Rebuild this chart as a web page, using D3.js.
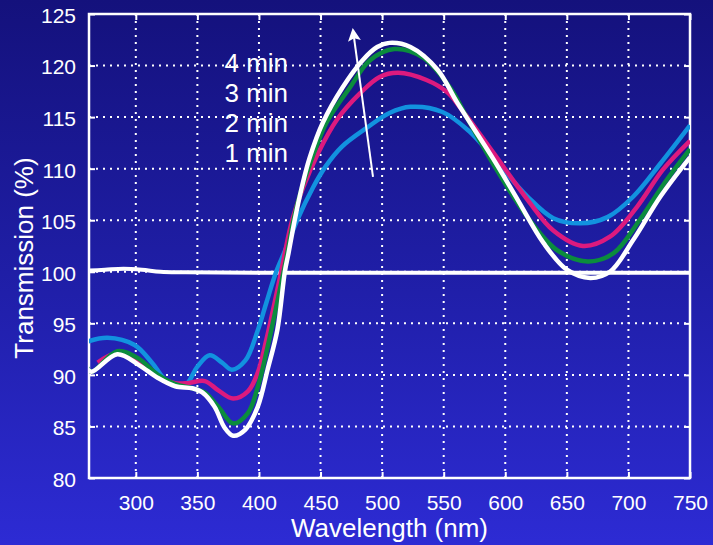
<!DOCTYPE html>
<html>
<head>
<meta charset="utf-8">
<title>Transmission vs wavelength</title>
<script src="https://d3js.org/d3.v7.min.js"></script>
<style>
  html, body { margin: 0; padding: 0; background: #1c1b9a; }
  svg { display: block; }
  text { font-family: Arial, "Liberation Sans", Helvetica, sans-serif; fill: white; }
</style>
</head>
<body>
<script>
// wavelength (nm), transmission (%)
let reference = [[260,100.1],[275,100.2],[290,100.3],[305,100.2],[320,100.0],[340,99.95],[400,99.9],[500,99.9],[600,99.9],[750,99.9]]

let min1 = [[260,93.2],[277,93.6],[299,92.9],[313,91.2],[326,89.3],[340,89.0],[350,90.8],[360,91.9],[370,91.2],[378,90.5],[389,91.4],[399,94.3],[406,97.0],[414,100],[421,102],[431,105],[444,108.2],[454,110.2],[467,112.1],[488,114.0],[506,115.4],[523,116.0],[549,115.5],[571,113.6],[590,111.1],[618,107.3],[639,105.2],[661,104.7],[683,105.3],[704,107.3],[726,110.5],[750,114.2]]

let min2 = [[269,91.2],[285,92.1],[302,91.4],[318,89.8],[332,89.2],[342,89.2],[356,89.4],[367,88.5],[379,87.7],[391,88.4],[399,90.2],[406,93.4],[418,100],[421,101.8],[427,105],[436,108.2],[448,111.5],[463,114.7],[482,117.3],[498,118.9],[513,119.3],[536,118.6],[553,117.4],[563,116.0],[590,111.6],[618,107.0],[639,104.0],[663,102.5],[685,103.4],[707,106.3],[728,109.9],[750,112.7]]

let min3 = [[260,90.8],[264,90.3],[285,92.3],[302,91.6],[318,90.0],[332,89.1],[346,88.7],[356,88.3],[367,86.9],[379,85.3],[391,86.3],[399,88.8],[407,92.7],[420,100],[423,101.8],[428,105],[435,108.2],[443,111.0],[455,114.5],[474,117.9],[490,120.5],[510,121.6],[533,120.8],[555,117.9],[570,114.7],[590,110.5],[618,105.3],[642,102.1],[667,101.0],[688,101.8],[709,105],[731,108.9],[750,111.9]]

let min4 = [[260,90.7],[264,90.3],[285,92.0],[302,91.0],[318,89.7],[332,88.9],[346,88.7],[354,88.3],[364,86.9],[372,84.9],[379,84.1],[389,84.7],[399,86.9],[407,90.5],[415,94.4],[421,100],[424,101.8],[429,105],[435,108.3],[441,111.0],[452,114.5],[468,117.9],[484,120.5],[496,121.8],[506,122.2],[523,121.8],[545,119.6],[561,116.4],[590,111.0],[610,107.0],[631,102.8],[650,100.2],[669,99.4],[685,100.0],[704,103.1],[726,107.3],[750,111.1]]

let seriesNames = ["1 min", "2 min", "3 min", "4 min"]
let seriesData = [min1, min2, min3, min4]
let seriesColors = ["#1292df", "#dc1a7e", "#0b8c3d", "#ffffff"]

let xTicks = [300, 350, 400, 450, 500, 550, 600, 650, 700, 750]
let yTicks = [80, 85, 90, 95, 100, 105, 110, 115, 120, 125]

// arrow annotation: tail -> tip, in data units
let arrowFrom = [492.6, 109.2]
let arrowTo = [476.4, 123.4]
// legend text anchor (wavelength, transmission of first baseline)
let labelAt = [372, 119.4]

let width = 713
let height = 545

let svg = d3.select("body").append("svg")
    .attr("width", width)
    .attr("height", height)

let defs = svg.append("defs")
let grad = defs.append("linearGradient")
    .attr("id", "bg")
    .attr("x1", 0).attr("y1", 0).attr("x2", 0).attr("y2", 1)
grad.append("stop").attr("offset", "0%").attr("stop-color", "#14117c")
grad.append("stop").attr("offset", "50%").attr("stop-color", "#1f1ea6")
grad.append("stop").attr("offset", "100%").attr("stop-color", "#2d2bd4")

defs.append("clipPath").attr("id", "plotclip")
    .append("rect").attr("x", 89).attr("y", 14).attr("width", 601).attr("height", 464)

defs.append("marker")
    .attr("id", "head")
    .attr("viewBox", "0 0 10 10")
    .attr("refX", 8).attr("refY", 5)
    .attr("markerWidth", 7.5).attr("markerHeight", 6.5)
    .attr("markerUnits", "strokeWidth")
    .attr("orient", "auto")
    .append("path").attr("d", "M0,0 L10,5 L0,10 L2,5 Z").attr("fill", "white")

svg.append("rect")
    .attr("width", width).attr("height", height)
    .attr("fill", "url(#bg)")

let x = d3.scaleLinear().domain([262, 750]).range([89, 690])
let y = d3.scaleLinear().domain([80, 125]).range([478, 14])

// grid
let grid = svg.append("g")
grid.selectAll(".vg").data(xTicks.slice(0, -1)).enter().append("line")
    .attr("x1", d => x(d)).attr("x2", d => x(d))
    .attr("y1", y(125)).attr("y2", y(80))
    .attr("stroke", "white").attr("stroke-width", 2)
    .attr("stroke-dasharray", "2,5")
grid.selectAll(".hg").data(yTicks.slice(1, -1)).enter().append("line")
    .attr("x1", x(262)).attr("x2", x(750))
    .attr("y1", d => y(d)).attr("y2", d => y(d))
    .attr("stroke", "white").attr("stroke-width", 2)
    .attr("stroke-dasharray", "2,5")

// axes with inward ticks
let xAxis = svg.append("g")
    .attr("transform", `translate(0,${y(80)})`)
    .call(d3.axisBottom(x).tickValues(xTicks).tickSize(-6).tickPadding(12))
let xAxisTop = svg.append("g")
    .attr("transform", `translate(0,${y(125)})`)
    .call(d3.axisTop(x).tickValues(xTicks).tickSize(-6).tickFormat(""))
let yAxis = svg.append("g")
    .attr("transform", `translate(${x(262)},0)`)
    .call(d3.axisLeft(y).tickValues(yTicks).tickSize(-6).tickPadding(13))
let yAxisRight = svg.append("g")
    .attr("transform", `translate(${x(750)},0)`)
    .call(d3.axisRight(y).tickValues(yTicks).tickSize(-6).tickFormat(""))

;[xAxis, xAxisTop, yAxis, yAxisRight].forEach(g => {
    g.select(".domain").remove()
    g.selectAll(".tick line").attr("stroke", "white").attr("stroke-width", 2)
    g.selectAll(".tick text")
        .attr("fill", "white")
        .style("font-size", "21px")
        .style("font-family", "Arial, 'Liberation Sans', Helvetica, sans-serif")
})
xAxis.selectAll(".tick text").attr("dy", "0.95em")
yAxis.selectAll(".tick text").attr("dy", "0.4em")

// frame
svg.append("rect")
    .attr("x", x(262)).attr("y", y(125))
    .attr("width", x(750) - x(262)).attr("height", y(80) - y(125))
    .attr("fill", "none").attr("stroke", "white").attr("stroke-width", 2.5)

let line = d3.line()
    .x(d => x(d[0]))
    .y(d => y(d[1]))
    .curve(d3.curveCatmullRom.alpha(0.5))

let plot = svg.append("g").attr("clip-path", "url(#plotclip)")

plot.append("path")
    .datum(reference)
    .attr("d", line)
    .attr("fill", "none")
    .attr("stroke", "white")
    .attr("stroke-width", 4)

plot.selectAll(".series").data(seriesData).enter().append("path")
    .attr("class", "series")
    .attr("d", line)
    .attr("fill", "none")
    .attr("stroke", (d, i) => seriesColors[i])
    .attr("stroke-width", 4.5)
    .attr("stroke-linejoin", "round")

// arrow
svg.append("line")
    .attr("x1", x(arrowFrom[0])).attr("y1", y(arrowFrom[1]))
    .attr("x2", x(arrowTo[0])).attr("y2", y(arrowTo[1]))
    .attr("stroke", "white").attr("stroke-width", 2)
    .attr("marker-end", "url(#head)")

// labels, 4 min on top
let labels = seriesNames.slice().reverse()
svg.selectAll(".lbl").data(labels).enter().append("text")
    .attr("class", "lbl")
    .attr("x", x(labelAt[0]))
    .attr("y", (d, i) => y(labelAt[1]) + i * 30)
    .style("font-size", "26px")
    .text(d => d)

// axis titles
svg.append("text")
    .attr("x", (x(262) + x(750)) / 2)
    .attr("y", 537)
    .attr("text-anchor", "middle")
    .style("font-size", "26px")
    .text("Wavelength (nm)")

svg.append("text")
    .attr("transform", "translate(33,258) rotate(-90)")
    .attr("text-anchor", "middle")
    .style("font-size", "26px")
    .text("Transmission (%)")
</script>
</body>
</html>
